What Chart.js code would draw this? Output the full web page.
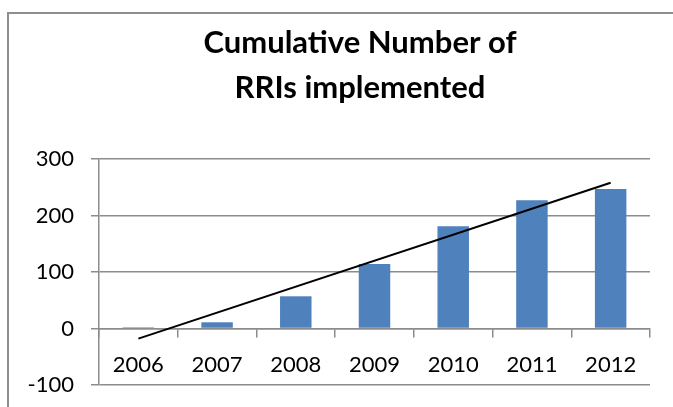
<!DOCTYPE html>
<html>
<head>
<meta charset="utf-8">
<script src="https://cdn.jsdelivr.net/npm/chart.js@4/dist/chart.umd.min.js"></script>
<style>
  html, body { margin: 0; padding: 0; background: #fff; }
  #wrap { position: relative; width: 673px; height: 407px; overflow: hidden; }
  #frame { position: absolute; left: 7px; top: 12px; width: 700px; height: 420px;
           border-left: 2px solid #8e8e8e; border-top: 2px solid #8e8e8e; }
  #myChart { position: absolute; left: 0; top: 0; }
</style>
</head>
<body>
<div id="wrap">
  <div id="frame"></div>
  <canvas id="myChart" width="673" height="407"></canvas>
</div>
<script>
let years = ["2006", "2007", "2008", "2009", "2010", "2011", "2012"];
let rris = [2, 11, 57, 114, 181, 227, 247];

// trendline ends
let trendYears = ["2006", "2012"];
let trendValues = [-18, 258];

let titleLines = ["Cumulative Number of", "RRIs implemented"];

let barColor = '#4f81bd';
let gridColor = '#8c8c8c';

// the title sits off-centre in the reference, so it is drawn by hand
let titlePlugin = {
    id: 'offsetTitle',
    afterDraw(chart) {
        let c = chart.ctx;
        c.save();
        c.fillStyle = '#000000';
        c.font = 'bold 31px Lato';
        c.textAlign = 'center';
        c.textBaseline = 'middle';
        titleLines.forEach((t, i) => c.fillText(t, 360, 43 + i * 45));
        c.restore();
    }
};

// keep label overhang from pushing the plot area around
function noPadding(s) {
    s.paddingTop = 0;
    s.paddingBottom = 0;
    s.paddingLeft = 0;
    s.paddingRight = 0;
}

let ctx = document.getElementById("myChart").getContext('2d');

let chart = new Chart(ctx, {
    type: 'bar',
    data: {
        labels: years,
        datasets: [{
            type: 'line',
            data: trendYears.map((y, i) => ({ x: y, y: trendValues[i] })),
            borderColor: '#000000',
            borderWidth: 2,
            pointRadius: 0,
            fill: false,
            order: 0
        }, {
            data: rris,
            backgroundColor: barColor,
            categoryPercentage: 1,
            barPercentage: 0.4,
            order: 1
        }]
    },
    plugins: [titlePlugin],
    options: {
        responsive: false,
        animation: false,
        layout: {
            padding: { left: 0, right: 23, top: 159, bottom: 22 }
        },
        plugins: {
            legend: { display: false },
            tooltip: { enabled: false },
            title: { display: false }
        },
        scales: {
            x: {
                position: { y: 0 },
                afterFit: s => { s.height = 0; noPadding(s); },
                grid: {
                    offset: true,
                    drawOnChartArea: false,
                    color: gridColor,
                    lineWidth: 1.5,
                    tickLength: 8
                },
                border: { color: gridColor, width: 1.5 },
                ticks: {
                    color: '#000000',
                    font: { family: 'Lato', size: 22 },
                    padding: 15
                }
            },
            y: {
                min: -100,
                max: 300,
                afterFit: s => { s.width = 99; noPadding(s); },
                grid: {
                    color: gridColor,
                    lineWidth: 1.5,
                    tickLength: 8
                },
                border: { color: gridColor, width: 1.5 },
                ticks: {
                    stepSize: 100,
                    color: '#000000',
                    font: { family: 'Lato', size: 22 },
                    padding: 17
                }
            }
        }
    }
});
</script>
</body>
</html>
